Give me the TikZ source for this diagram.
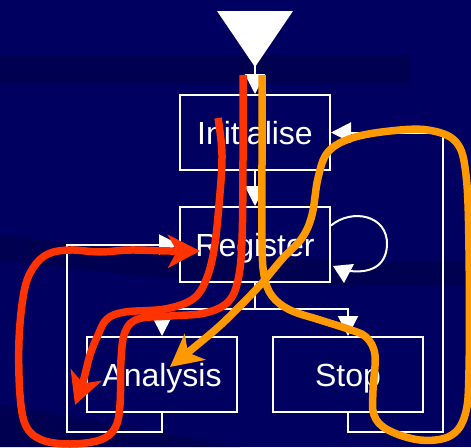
\documentclass[tikz,border=0pt]{standalone}
\usepackage{fontspec}
\setmainfont{Liberation Sans}
\usetikzlibrary{arrows.meta}
\definecolor{navy}{RGB}{0,0,96}
\definecolor{navydeep}{RGB}{0,0,80}
\definecolor{penred}{RGB}{255,51,0}
\definecolor{penorange}{RGB}{255,153,0}

\begin{document}
\begin{tikzpicture}[x=1pt,y=-1pt,
  stage/.style={draw=white, line width=2pt, minimum width=150pt, minimum height=75pt,
    inner sep=0pt, text=white, font=\fontsize{32}{36}\selectfont,
    text height=23pt, text depth=0pt},
  flow/.style={draw=white, line width=2pt},
  flowtip/.style={flow, -{Triangle[length=20pt,width=20pt]}},
  pen/.style={line width=7.5pt, line cap=butt, line join=round},
  pentip/.style={-{Stealth[length=32pt,width=33pt,inset=9pt]}},
]
% slide background with its faint darker bands
\fill[navy] (0,0) rectangle (471,447);
\useasboundingbox (0,0) rectangle (471,447);
\fill[navydeep] (0,55) rectangle (410,83);
\fill[navydeep] (0,235) .. controls (120,250) and (260,262) .. (471,262)
  -- (471,285) .. controls (260,288) and (120,276) .. (0,260) -- cycle;
\fill[navydeep] (0,405) -- (240,447) -- (0,447) -- cycle;

% stages
\node[stage] (init) at (255,132.5) {Initialise};
\node[stage] (reg)  at (255,244.5) {Register};
\node[stage] (ana)  at (162,374.5) {Analysis};
\node[stage] (stop) at (348,374.5) {Stop};

% entry funnel
\fill[white] (217,11) -- (293,11) -- (255,67) -- cycle;
\coordinate (src) at (255,66);
\coordinate (split) at (255,309);

% control flow
\draw[flowtip] (src) -- (init.north);
\draw[flowtip] (init.south) -- (reg.north);
\draw[flow] (reg.south) -- (split);
\draw[flowtip] (split) -| (ana.north);
\draw[flowtip] (split) -| (stop.north);
\draw[flowtip] (ana.south) -- ++(0,19) -| ([xshift=-112pt]reg.west) -- (reg.west);
\draw[flowtip] (stop.south) -- ++(0,19) -| ([xshift=112pt]init.east) -- (init.east);

% register self loop
\draw[flow] ([yshift=19pt]reg.east) .. controls (352,208) and (388,215) .. (387,245)
  .. controls (386,268) and (368,273) .. (350,271);
\fill[white] ([xshift=2pt,yshift=17pt]reg.south east) -- ([xshift=23pt,yshift=19pt]reg.south east)
  -- ([xshift=13pt]reg.south east) -- cycle;

% hand-drawn execution traces
\draw[pen, penred, pentip] plot[smooth, tension=0.6] coordinates {
  (243,75) (243,160) (242,240) (238,280) (228,302) (205,313) (170,316) (138,319)
  (125,332) (121,360) (120,405) (115,428) (100,440) (70,444) (42,440) (26,426)
  (20,395) (19,340) (24,292) (33,268) (48,254) (70,250) (100,252) (130,250)
  (170,251) (200,251)};
\draw[pen, penred, pentip] plot[smooth, tension=0.6] coordinates {
  (218,118) (222,155) (219,205) (214,250) (206,280) (193,299) (165,309) (125,312)
  (107,319) (98,335) (90,355) (83,382) (75,405)};
\draw[pen, penorange, pentip] plot[smooth, tension=0.6] coordinates {
  (262,75) (262,160) (262,240) (264,275) (272,296) (290,310) (320,320) (348,329)
  (366,337) (375,355) (373,390) (374,415) (388,430) (420,440) (450,436) (465,415)
  (469,370) (469,250) (466,175) (456,142) (428,130) (390,131) (352,138) (328,152)
  (318,178) (312,215) (302,238) (283,258) (262,283) (240,306) (215,330) (170,367)};
\end{tikzpicture}
\end{document}
